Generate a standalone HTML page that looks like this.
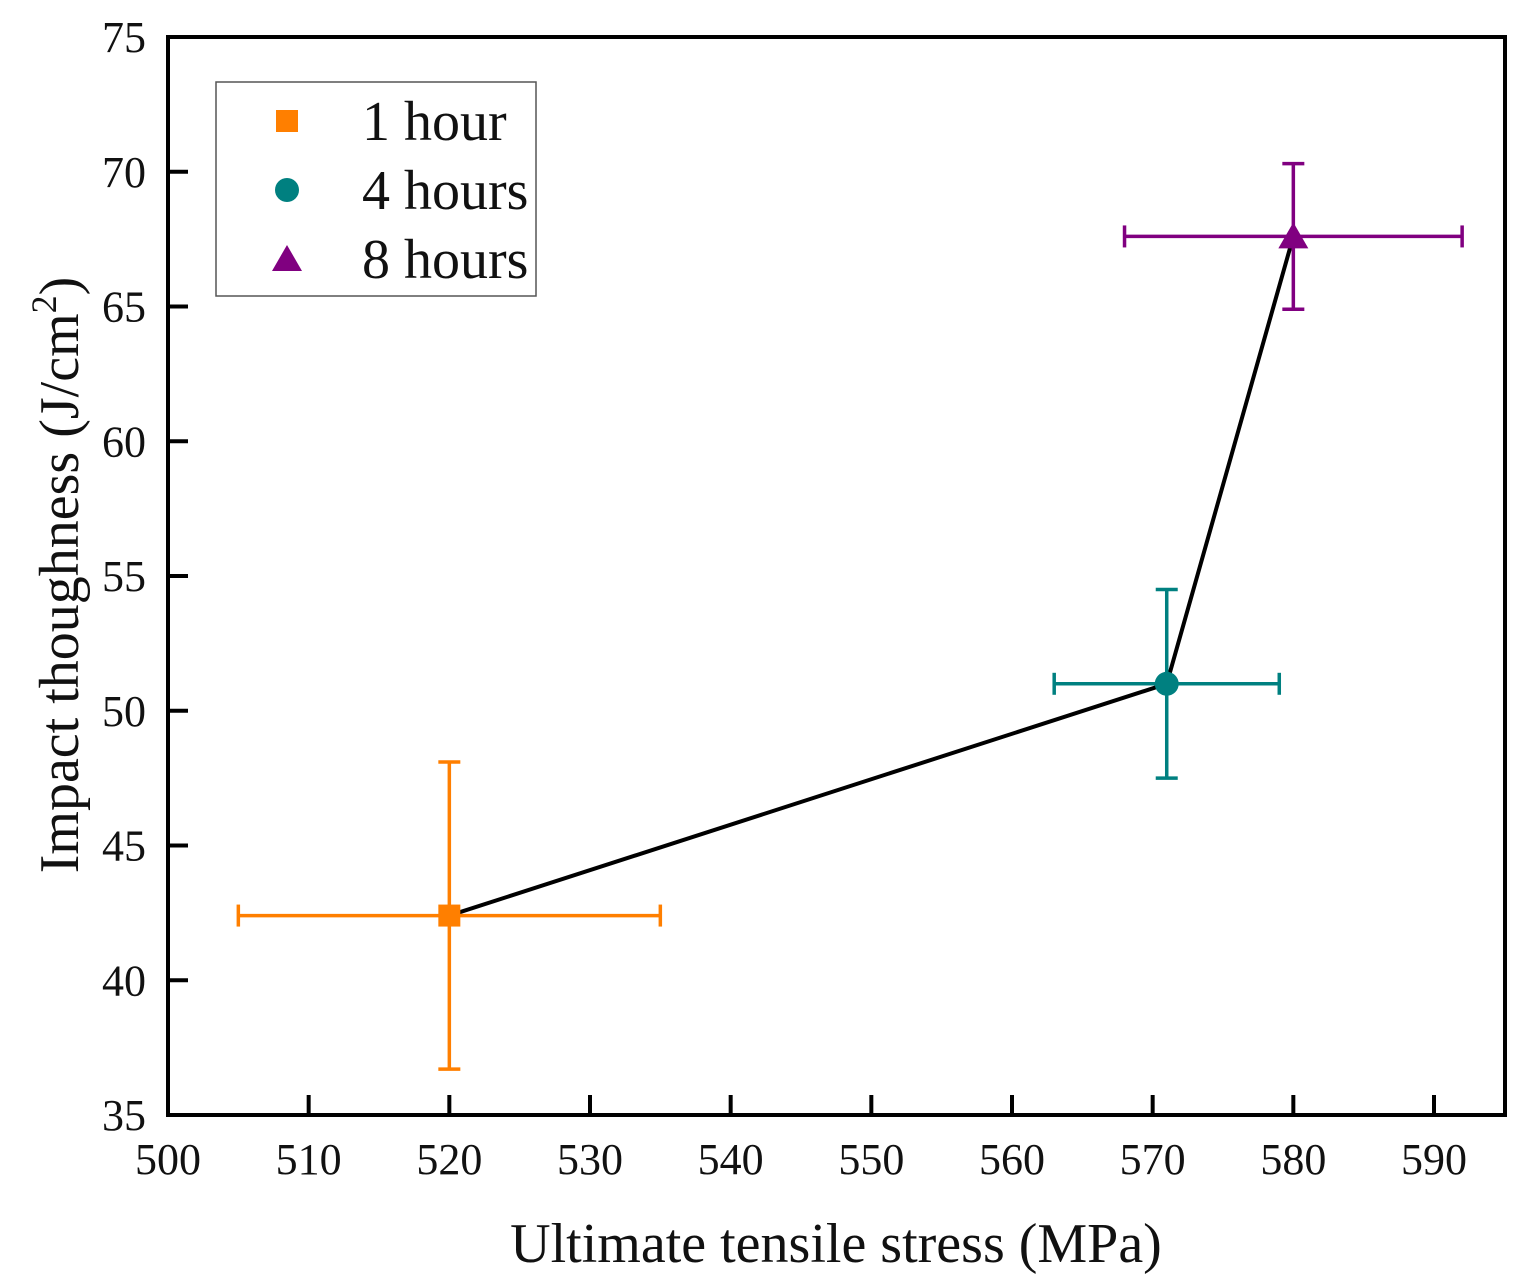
<!DOCTYPE html>
<html><head><meta charset="utf-8"><style>
body{margin:0;background:#fff}
svg{display:block;font-family:"Liberation Serif",serif}
</style></head><body>
<svg id="chart" width="1531" height="1288" xmlns="http://www.w3.org/2000/svg"></svg>
<script>
const seriesNames=["1 hour","4 hours","8 hours"];
const xValues=[520,571,580];
const yValues=[42.4,51.0,67.6];
const xErrors=[15,8,12];
const yErrors=[5.7,3.5,2.7];
const colors=["#ff7f00","#008080","#800080"];
const xTicks=[500,510,520,530,540,550,560,570,580,590];
const yTicks=[35,40,45,50,55,60,65,70,75];

const L=168,R=1505,T=37,B=1115;
const X=v=>L+(v-500)*(1434-168)/90;
const Y=v=>B-(v-35)*(B-T)/40;
const NS="http://www.w3.org/2000/svg";
const svg=document.getElementById('chart');
function mk(tag,at,parent){const e=document.createElementNS(NS,tag);for(const k in at)e.setAttribute(k,at[k]);(parent||svg).appendChild(e);return e;}

xTicks.forEach(t=>{
  if(t>500){const l=mk('line',{x1:X(t),x2:X(t),y1:B,y2:B-20,stroke:'#000','stroke-width':4});
  
  }
  const tx=mk('text',{x:X(t),y:1174,'font-size':44,'text-anchor':'middle',fill:'#111'});tx.textContent=t;
  
  
});
yTicks.forEach(t=>{
  if(t>35&&t<75){const l=mk('line',{x1:L,x2:L+20,y1:Y(t),y2:Y(t),stroke:'#000','stroke-width':4});
  
  }
  const tx=mk('text',{x:146,y:Y(t)+15,'font-size':44,'text-anchor':'end',fill:'#111'});tx.textContent=t;
  
  
});
const frame=mk('rect',{x:L,y:T,width:R-L,height:B-T,fill:'none',stroke:'#000','stroke-width':4});



const pl=mk('polyline',{points:xValues.map((v,i)=>X(v)+','+Y(yValues[i])).join(' '),fill:'none',stroke:'#000','stroke-width':4});



xValues.forEach((xv,i)=>{
  const g=mk('g',{stroke:colors[i],'stroke-width':3.5,fill:colors[i]});
  
  
  const cx=X(xv),cy=Y(yValues[i]);
  const x1=X(xv-xErrors[i]),x2=X(xv+xErrors[i]),y1=Y(yValues[i]+yErrors[i]),y2=Y(yValues[i]-yErrors[i]);
  mk('line',{x1:x1,x2:x2,y1:cy,y2:cy},g);
  mk('line',{x1:x1,x2:x1,y1:cy-11,y2:cy+11},g);
  mk('line',{x1:x2,x2:x2,y1:cy-11,y2:cy+11},g);
  mk('line',{x1:cx,x2:cx,y1:y1,y2:y2},g);
  mk('line',{x1:cx-11,x2:cx+11,y1:y1,y2:y1},g);
  mk('line',{x1:cx-11,x2:cx+11,y1:y2,y2:y2},g);
  if(i===0)mk('rect',{x:cx-11,y:cy-11,width:22,height:22,stroke:'none'},g);
  else if(i===1)mk('circle',{cx:cx,cy:cy,r:12,stroke:'none'},g);
  else mk('polygon',{points:`${cx},${cy-14} ${cx-15},${cy+12} ${cx+15},${cy+12}`,stroke:'none'},g);
});

const lg=mk('g',{});


mk('rect',{x:216,y:82,width:320,height:214,fill:'#fff',stroke:'#555','stroke-width':1.5},lg);
seriesNames.forEach((n,i)=>{
  const cy=121+i*69,cx=287;
  const e=mk('g',{fill:colors[i]},lg);
  
  
  if(i===0)mk('rect',{x:cx-11,y:cy-11,width:22,height:22},e);
  else if(i===1)mk('circle',{cx:cx,cy:cy,r:12},e);
  else mk('polygon',{points:`${cx},${cy-14} ${cx-15},${cy+12} ${cx+15},${cy+12}`},e);
  const t=mk('text',{x:362,y:cy+19,'font-size':56,fill:'#111'},e);t.textContent=n;
});

const xt=mk('text',{x:836,y:1262,'font-size':56,'text-anchor':'middle',fill:'#111'});
xt.textContent='Ultimate tensile stress (MPa)';


const yt=mk('text',{transform:'translate(78,575) rotate(-90)','font-size':56,'text-anchor':'middle',fill:'#111'});
yt.innerHTML='Impact thoughness (J/cm<tspan dy="-22" font-size="36">2</tspan><tspan dy="22">)</tspan>';


</script>
</body></html>
